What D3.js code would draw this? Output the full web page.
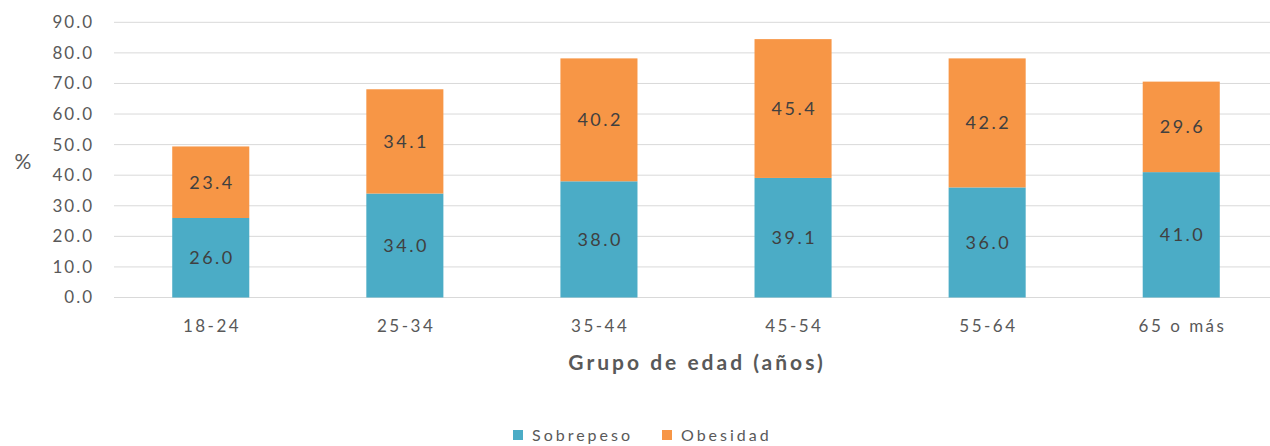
<!DOCTYPE html>
<html><head><meta charset="utf-8">
<script src="https://cdn.jsdelivr.net/npm/d3@7"></script>
<style>body{margin:0;background:#fff;} svg{display:block;}</style>
</head><body>
<script>
const categories = ["18-24", "25-34", "35-44", "45-54", "55-64", "65 o más"];
const sobrepeso = [26.0, 34.0, 38.0, 39.1, 36.0, 41.0];
const obesidad = [23.4, 34.1, 40.2, 45.4, 42.2, 29.6];
const seriesNames = ["Sobrepeso", "Obesidad"];
const yTicks = [0, 10, 20, 30, 40, 50, 60, 70, 80, 90];

const W = 1270, H = 446;
const colors = {Sobrepeso: "#4BACC6", Obesidad: "#F79646"};
const font = "Lato, 'Open Sans', sans-serif";

const svg = d3.select("body").append("svg").attr("width", W).attr("height", H);

const x = d3.scaleBand().domain(categories).range([114, 1278]).paddingInner(0.603).paddingOuter(0.3);
const y = d3.scaleLinear().domain([0, 90]).range([297.5, 22.3]);

// gridlines
svg.append("g").selectAll("line").data(yTicks).join("line")
  .attr("x1", 114).attr("x2", W).attr("y1", d => y(d)).attr("y2", d => y(d))
  .attr("stroke", "#D9D9D9").attr("stroke-width", 1);

// y axis
const yAxis = d3.axisLeft(y).tickValues(yTicks).tickFormat(d3.format(".1f")).tickSize(0).tickPadding(0);
const yg = svg.append("g").attr("transform", "translate(94,0)").call(yAxis);
yg.select(".domain").remove();
yg.selectAll("text").attr("fill", "#595959").style("font-family", font).style("font-size", "17px")
  .style("letter-spacing", "2px");

// x axis
const xAxis = d3.axisBottom(x).tickSize(0).tickPadding(0);
const xg = svg.append("g").attr("transform", "translate(0,320)").call(xAxis);
xg.select(".domain").remove();
xg.selectAll("text").attr("fill", "#595959").style("font-family", font).style("font-size", "17px")
  .style("letter-spacing", "2.5px").attr("dx", "1.25px");

// stack
const rows = categories.map((c, i) => ({cat: c, Sobrepeso: sobrepeso[i], Obesidad: obesidad[i]}));
const stacked = d3.stack().keys(seriesNames)(rows);

const layers = svg.append("g").selectAll("g").data(stacked).join("g")
  .attr("fill", d => colors[d.key]);
layers.selectAll("rect").data(d => d).join("rect")
  .attr("x", d => x(d.data.cat)).attr("width", x.bandwidth())
  .attr("y", d => y(d[1])).attr("height", d => y(d[0]) - y(d[1]));

// labels
const lbl = svg.append("g");
stacked.forEach(layer => {
  lbl.selectAll(null).data(layer).join("text")
    .attr("x", d => x(d.data.cat) + x.bandwidth() / 2)
    .attr("y", d => (y(d[0]) + y(d[1])) / 2)
    .attr("dy", "0.35em").attr("dx", "1.25px").attr("text-anchor", "middle")
    .attr("fill", "#404040").style("font-family", font).style("font-size", "18px")
    .style("letter-spacing", "2.5px")
    .text(d => (d[1] - d[0]).toFixed(1));
});

// y title
svg.append("text").attr("x", 23).attr("y", 162).attr("dy", "0.35em").attr("text-anchor", "middle")
  .attr("fill", "#595959").style("font-family", font).style("font-size", "21px").text("%");

// x title
svg.append("text").attr("x", 697).attr("y", 363).attr("dy", "0.35em").attr("text-anchor", "middle")
  .attr("fill", "#595959").style("font-family", font).style("font-size", "21px").style("font-weight", "bold")
  .style("letter-spacing", "3px")
  .text("Grupo de edad (años)");

// legend
const leg = svg.append("g").attr("transform", "translate(513,435)");
const legItems = [{k: "Sobrepeso", x: 0}, {k: "Obesidad", x: 149}];
legItems.forEach(it => {
  leg.append("rect").attr("x", it.x).attr("y", -5).attr("width", 10).attr("height", 10).attr("fill", colors[it.k]);
  leg.append("text").attr("x", it.x + 19).attr("y", 0).attr("dy", "0.35em")
    .attr("fill", "#595959").style("font-family", font).style("font-size", "16px")
    .style("letter-spacing", "3px").text(it.k);
});
</script>
</body></html>
